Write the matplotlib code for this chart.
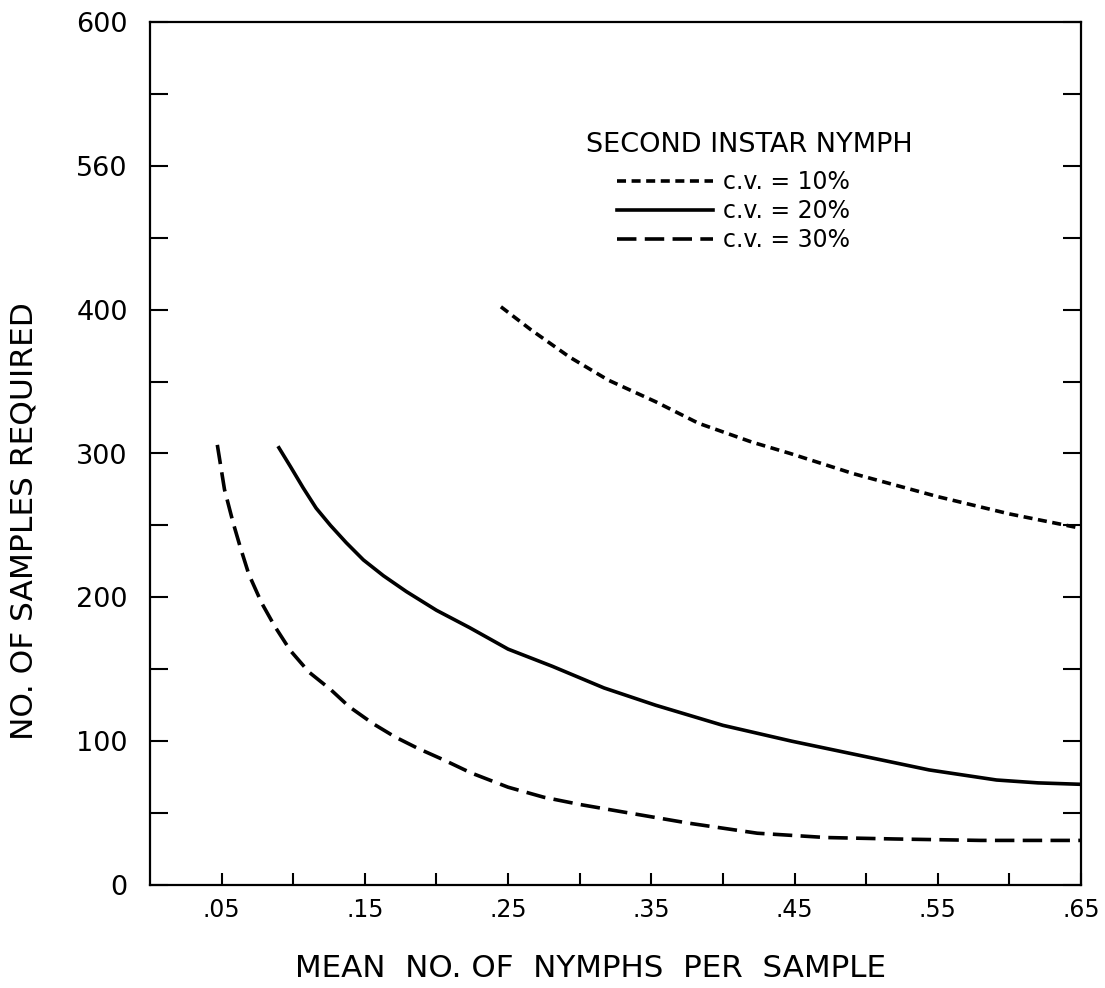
import matplotlib
matplotlib.use("Agg")
import matplotlib.pyplot as plt
from matplotlib.ticker import FixedLocator

plt.rcParams['font.family'] = ['DejaVu Sans']
plt.rcParams['lines.scale_dashes'] = False

# ---- data ----
cv10_x = [0.245, 0.266, 0.293, 0.320, 0.353, 0.383, 0.420, 0.447, 0.491, 0.55, 0.60, 0.65]
cv10_y = [402, 386, 367, 351, 336, 321, 308, 300, 286, 270, 258, 248]

cv20_x = [0.090, 0.098, 0.107, 0.116, 0.126, 0.137, 0.149, 0.163, 0.179, 0.200,
          0.223, 0.250, 0.281, 0.317, 0.353, 0.400, 0.448, 0.496, 0.544, 0.591, 0.62, 0.65]
cv20_y = [304, 291, 276, 262, 250, 238, 226, 215, 204, 191,
          179, 164, 152, 137, 125, 111, 100, 90, 80, 73, 71, 70]

cv30_x = [0.047, 0.052, 0.058, 0.063, 0.069, 0.078, 0.087, 0.098, 0.111, 0.126,
          0.139, 0.156, 0.171, 0.187, 0.205, 0.224, 0.250, 0.275, 0.300, 0.329,
          0.376, 0.424, 0.472, 0.52, 0.58, 0.65]
cv30_y = [306, 275, 252, 235, 216, 196, 180, 163, 148, 136,
          124, 112, 103, 95, 87, 78, 68, 61, 56, 51,
          43, 36, 33, 32, 31, 31]

x_major = [0.05, 0.15, 0.25, 0.35, 0.45, 0.55, 0.65]
x_labels = ['.05', '.15', '.25', '.35', '.45', '.55', '.65']
x_minor = [0.10, 0.20, 0.30, 0.40, 0.50, 0.60]
y_major = [0, 100, 200, 300, 400, 500, 600]
y_labels = ['0', '100', '200', '300', '400', '560', '600']
y_minor = [50, 150, 250, 350, 450, 550]

legend_title = 'SECOND INSTAR NYMPH'
series_labels = ['c.v. = 10%', 'c.v. = 20%', 'c.v. = 30%']

# ---- figure ----
fig = plt.figure(figsize=(11.05, 9.88), dpi=100)
ax = fig.add_axes([150/1105, 1-885/988, (1081-150)/1105, (885-22)/988])

lw = 2.6
l1, = ax.plot(cv10_x, cv10_y, color='black', lw=lw, linestyle=(0, (6.5, 4)),
              label=series_labels[0])
l2, = ax.plot(cv20_x, cv20_y, color='black', lw=lw, linestyle='-', label=series_labels[1])
l3, = ax.plot(cv30_x, cv30_y, color='black', lw=lw, linestyle=(0, (14, 6)),
              label=series_labels[2])

ax.set_xlim(0, 0.65)
ax.set_ylim(0, 600)

ax.xaxis.set_major_locator(FixedLocator(x_major))
ax.set_xticklabels(x_labels)
ax.xaxis.set_minor_locator(FixedLocator(x_minor))
ax.yaxis.set_major_locator(FixedLocator(y_major))
ax.set_yticklabels(y_labels)
ax.yaxis.set_minor_locator(FixedLocator(y_minor))

for sp in ax.spines.values():
    sp.set_linewidth(1.6)

ax.tick_params(axis='y', which='both', direction='in', length=13, width=1.5,
               left=True, right=True, labelsize=19.5, pad=16)
ax.tick_params(axis='x', which='both', direction='in', length=9, width=1.5,
               top=False, bottom=True, labelsize=17, pad=9)

ax.set_xlabel('MEAN  NO. OF  NYMPHS  PER  SAMPLE', fontsize=22.3, va='baseline')
ax.xaxis.set_label_coords(0.473, -0.1066)
ax.set_ylabel('NO. OF SAMPLES REQUIRED', fontsize=22.5, va='center')
ax.yaxis.set_label_coords(-0.1353, 0.4218)

ax.text(0.644, 0.8575, legend_title, transform=ax.transAxes, fontsize=19.5,
        ha='center', va='center')
leg = ax.legend(handles=[l1, l2, l3], frameon=False,
                loc='upper left', bbox_to_anchor=(0.5016, 0.828),
                fontsize=17, handlelength=4.06, handletextpad=0.42,
                labelspacing=0.2, borderaxespad=0, borderpad=0)

fig.savefig('out.png', dpi=100)
